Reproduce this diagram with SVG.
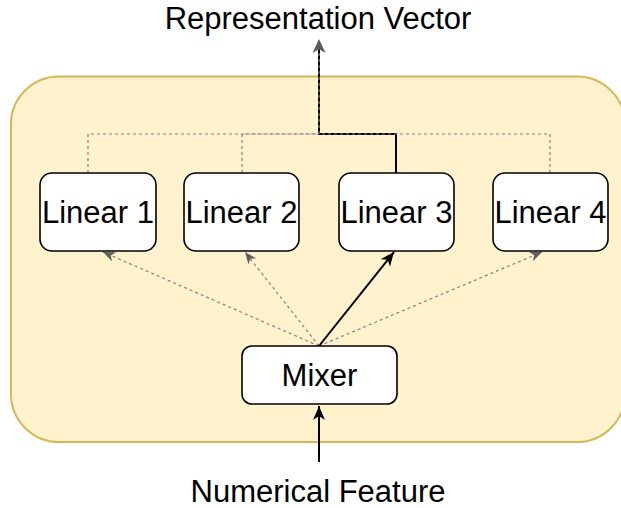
<svg xmlns="http://www.w3.org/2000/svg" width="621" height="508" viewBox="0 0 621 508">
  <style>
    .lbl { font-family: "Liberation Sans", Arial, sans-serif; font-size: 31px; fill: #000; text-anchor: middle; }
    .node { fill: #ffffff; stroke: #000000; stroke-width: 1.6; }
    .solid { fill: none; stroke: #000000; stroke-width: 2; }
    .dash { fill: none; stroke: #808080; stroke-width: 1.2; stroke-dasharray: 3 3; }
  </style>
  <defs>
    <marker id="arrowBlack" markerUnits="userSpaceOnUse" markerWidth="15" markerHeight="13" refX="14" refY="6" orient="auto">
      <path d="M0,0 L14,6 L0,12 L4,6 z" fill="#000"/>
    </marker>
    <marker id="arrowGray" markerUnits="userSpaceOnUse" markerWidth="13" markerHeight="11" refX="12" refY="5" orient="auto">
      <path d="M0,0 L12,5 L0,10 L3.5,5 z" fill="#5f5f5f"/>
    </marker>
    <marker id="arrowGrayLarge" markerUnits="userSpaceOnUse" markerWidth="15" markerHeight="14" refX="14" refY="6.5" orient="auto">
      <path d="M0,0 L14,6.5 L0,13 L4,6.5 z" fill="#595959"/>
    </marker>
  </defs>

  <!-- container -->
  <rect id="container" x="11" y="76.5" width="614" height="365.5" rx="48" ry="48" fill="#fff2cc" stroke="#d6b656" stroke-width="2"/>

  <!-- connectors -->
  <g id="connectors">
    <!-- input into mixer -->
    <path class="solid" d="M319,462 L319,406" marker-end="url(#arrowBlack)"/>
    <!-- mixer to linear layers -->
    <path class="dash" d="M319,346 L103,252" marker-end="url(#arrowGray)"/>
    <path class="dash" d="M319,346 L245,252" marker-end="url(#arrowGray)"/>
    <path class="dash" d="M319,346 L542,252" marker-end="url(#arrowGray)"/>
    <path class="solid" d="M319,346 L394,252" marker-end="url(#arrowBlack)"/>
    <!-- linear layers to output -->
    <path class="solid" d="M396,173 L396,134 L319,134 L319,46"/>
    <path class="dash" d="M88,173 L88,134 L319,134 L319,39" marker-end="url(#arrowGrayLarge)"/>
    <path class="dash" d="M242,173 L242,134 L319,134"/>
    <path class="dash" d="M550,173 L550,134 L319,134"/>
  </g>

  <g id="linear1">
    <rect class="node" x="40" y="173" width="116" height="78" rx="12" ry="12"/>
    <text class="lbl" x="98" y="223">Linear 1</text>
  </g>
  <g id="linear2">
    <rect class="node" x="184" y="173" width="115" height="78" rx="12" ry="12"/>
    <text class="lbl" x="241.5" y="223">Linear 2</text>
  </g>
  <g id="linear3">
    <rect class="node" x="339" y="173" width="115" height="78" rx="12" ry="12"/>
    <text class="lbl" x="396.5" y="223">Linear 3</text>
  </g>
  <g id="linear4">
    <rect class="node" x="493" y="173" width="115" height="78" rx="12" ry="12"/>
    <text class="lbl" x="550.5" y="223">Linear 4</text>
  </g>
  <g id="mixer">
    <rect class="node" x="242" y="346" width="155" height="58" rx="10" ry="10"/>
    <text class="lbl" x="319.5" y="386">Mixer</text>
  </g>

  <g id="output-label">
    <text class="lbl" x="318" y="29">Representation Vector</text>
  </g>
  <g id="input-label">
    <text class="lbl" x="318" y="502">Numerical Feature</text>
  </g>
</svg>
